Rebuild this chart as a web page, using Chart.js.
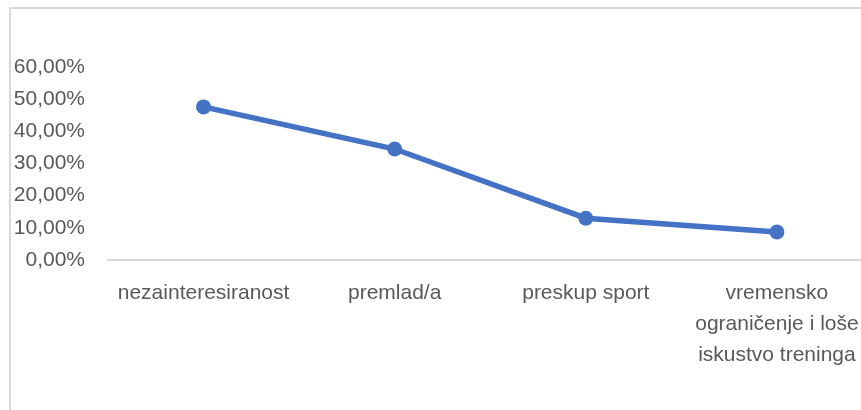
<!DOCTYPE html>
<html>
<head>
<meta charset="utf-8">
<script src="https://cdn.jsdelivr.net/npm/chart.js@4/dist/chart.umd.min.js"></script>
<style>
  html, body { margin: 0; padding: 0; background: #fff; overflow: hidden; }
  #frame { position: absolute; left: 9px; top: 7px; width: 1000px; height: 1000px; border: 2px solid #d9d9d9; box-sizing: border-box; }
  #wrap { position: absolute; left: 0; top: 0; width: 880px; height: 410px; }
</style>
</head>
<body>
<div id="frame"></div>
<div id="wrap"><canvas id="chart"></canvas></div>
<script>
// categories (multi-line where the original wraps)
var categories = [
  "nezainteresiranost",
  "premlad/a",
  "preskup sport",
  ["vremensko", "ograničenje i loše", "iskustvo treninga"]
];
// percent values
var values = [47.6, 34.5, 13.0, 8.7];
var yMin = 0;
var yMax = 60;
var yStep = 10;

var textColor = "#595959";
var font = { family: "'Liberation Sans', Arial, sans-serif", size: 21, lineHeight: 1.48 };

var ctx = document.getElementById("chart").getContext("2d");
var myChart = new Chart(ctx, {
  type: "line",
  data: {
    labels: categories,
    datasets: [
      {
        label: "Series 1",
        data: values,
        borderColor: "#4472C4",
        backgroundColor: "#4472C4",
        borderWidth: 5.5,
        pointRadius: 7.5,
        pointHoverRadius: 7.5,
        pointBorderWidth: 0,
        tension: 0
      }
    ]
  },
  options: {
    responsive: true,
    maintainAspectRatio: false,
    animation: false,
    layout: { padding: { top: 67, left: 0, right: 7, bottom: 0 } },
    plugins: { legend: { display: false }, tooltip: { enabled: false } },
    scales: {
      x: {
        offset: true,
        grid: { display: false, drawTicks: false },
        border: { display: true, color: "#d9d9d9", width: 2 },
        ticks: {
          color: textColor,
          font: font,
          padding: 18,
          maxRotation: 0,
          minRotation: 0,
          autoSkip: false
        },
        afterFit: function(scale) {
          scale.height = 150;
          scale.paddingLeft = 0;
          scale.paddingRight = 0;
        }
      },
      y: {
        min: yMin,
        max: yMax,
        grid: { display: false, drawTicks: false },
        border: { display: false },
        ticks: {
          stepSize: yStep,
          autoSkip: false,
          color: textColor,
          font: font,
          padding: 23,
          callback: function(v) {
            return v.toFixed(2).replace(".", ",") + "%";
          }
        },
        afterFit: function(scale) {
          scale.width = 108;
          scale.paddingTop = 0;
          scale.paddingBottom = 0;
        }
      }
    }
  }
});
</script>
</body>
</html>
